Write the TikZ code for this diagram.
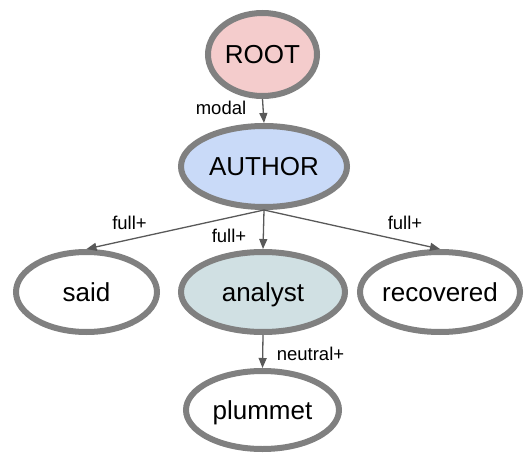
\documentclass[tikz,border=0pt]{standalone}
\usepackage{fontspec}
\setmainfont{Liberation Sans}
\usetikzlibrary{shapes.geometric,arrows.meta}
\definecolor{rootfill}{HTML}{F4CCCC}
\definecolor{authfill}{HTML}{C9DAF8}
\definecolor{anafill}{HTML}{D0E0E3}
\definecolor{ringgray}{HTML}{808080}
\definecolor{edgegray}{HTML}{595959}
\begin{document}
\begin{tikzpicture}[x=1bp,y=-1bp,
  word/.style={ellipse, draw=ringgray, line width=6bp, fill=white, inner sep=-12bp,
    text height=19bp, text depth=0bp,
    font=\fontsize{26bp}{30bp}\selectfont},
  edge/.style={draw=edgegray, line width=1.3bp,
    -{Triangle[length=10bp,width=8bp]}},
  lbl/.style={inner sep=0pt, font=\fontsize{18.5bp}{22bp}\selectfont}]
\useasboundingbox (0,0) rectangle (524,455);

% tree nodes
\node[word, fill=rootfill, minimum width=109bp, minimum height=83bp] (root) at (262.5,54.5) {ROOT};
\node[word, fill=authfill, minimum width=166bp, minimum height=81bp] (author) at (264,166.5) {AUTHOR};
\node[word, minimum width=141bp, minimum height=80bp] (said) at (86.5,292) {said};
\node[word, fill=anafill, minimum width=164bp, minimum height=80bp] (analyst) at (263,292) {analyst};
\node[word, minimum width=160bp, minimum height=80bp] (recovered) at (440,292) {recovered};
\node[word, minimum width=153bp, minimum height=78bp] (plummet) at (262.5,410) {plummet};

% dependency edges
\draw[edge] (root.south) -- (author.north);
\draw[edge] (author.south) -- (said.north);
\draw[edge] (author.south) -- (analyst.north);
\draw[edge] (author.south) -- (recovered.north);
\draw[edge] (analyst.south) -- (plummet.north);

% edge labels
\node[lbl] (lmodal) at (221,108) {modal};
\node[lbl] (lsaid) at (129.5,223) {full+};
\node[lbl] (lanalyst) at (229,236) {full+};
\node[lbl] (lrecovered) at (405,223) {full+};
\node[lbl] (lplummet) at (310.5,354) {neutral+};
\end{tikzpicture}
\end{document}
